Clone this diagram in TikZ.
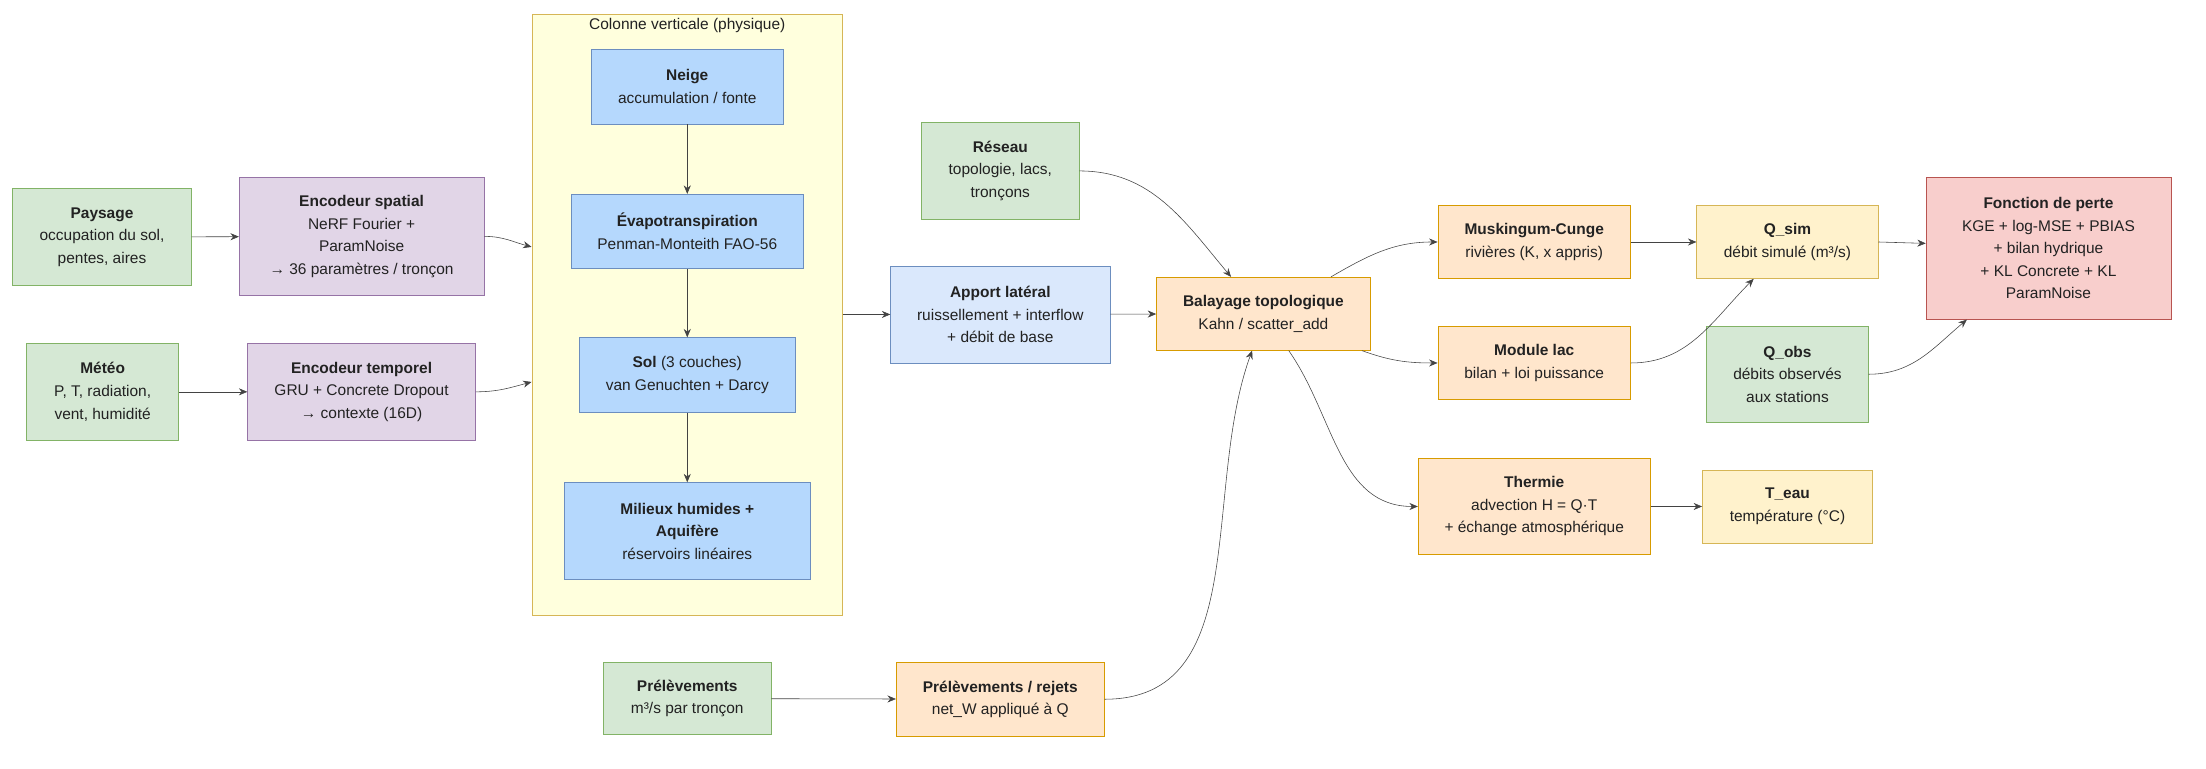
\documentclass[tikz,border=0pt]{standalone}
\usepackage{fontspec}
\setmainfont{Liberation Sans}
\usetikzlibrary{arrows.meta, positioning, calc}
\definecolor{gfill}{HTML}{D5E8D4}\definecolor{gdraw}{HTML}{82B366}
\definecolor{pfill}{HTML}{E1D5E7}\definecolor{pdraw}{HTML}{9673A6}
\definecolor{bfill}{HTML}{B5D8FD}\definecolor{bdraw}{HTML}{6C8EBF}
\definecolor{lfill}{HTML}{DAE8FC}
\definecolor{ofill}{HTML}{FFE6CC}\definecolor{odraw}{HTML}{D79B00}
\definecolor{yfill}{HTML}{FFF2CC}\definecolor{ydraw}{HTML}{D6B656}
\definecolor{cfill}{HTML}{FFFFDD}
\definecolor{rfill}{HTML}{F8CECC}\definecolor{rdraw}{HTML}{B85450}
\definecolor{txt}{HTML}{222222}
\tikzset{%
	box/.style={draw, rectangle, align=center, inner sep=0pt, text=txt,%
		font=\fontsize{11}{16}\selectfont},
	sz/.style 2 args={minimum width=#1pt, minimum height=#2pt},
	input/.style={box, fill=gfill, draw=gdraw},
	encoder/.style={box, fill=pfill, draw=pdraw},
	phys/.style={box, fill=bfill, draw=bdraw},
	flux/.style={box, fill=lfill, draw=bdraw},
	route/.style={box, fill=ofill, draw=odraw},
	output/.style={box, fill=yfill, draw=ydraw},
	loss/.style={box, fill=rfill, draw=rdraw},
	link/.style={-{Stealth[length=6pt,width=5pt]}, draw=txt!85}
}

\begin{document}
\begin{tikzpicture}[x=1pt, y=-1pt]
	\useasboundingbox (0,0) rectangle (1568,546);
	% colonne verticale
	\node[draw=ydraw, fill=cfill, minimum width=221pt, minimum height=427pt] (col) at (488.5,223.5) {};
	\node[text=txt, font=\fontsize{11}{14}\selectfont] (coltitle) at (488.5,18) {Colonne verticale (physique)};

	\node[input, sz={127}{69}] (paysage) at (72.5,168.5) {\textbf{Paysage}\\occupation du sol,\\pentes, aires};
	\node[input, sz={108}{69}] (meteo) at (73,278.5) {\textbf{Météo}\\P, T, radiation,\\vent, humidité};
	\node[encoder, sz={174}{84}] (encs) at (257,168) {\textbf{Encodeur spatial}\\NeRF Fourier +\\ParamNoise\\→ 36 paramètres / tronçon};
	\node[encoder, sz={162}{69}] (enct) at (257,278.5) {\textbf{Encodeur temporel}\\GRU + Concrete Dropout\\→ contexte (16D)};

	\node[phys, sz={137}{53}] (neige) at (488.5,61.5) {\textbf{Neige}\\accumulation / fonte};
	\node[phys, sz={165}{53}] (evapo) at (488.5,164.5) {\textbf{Évapotranspiration}\\Penman-Monteith FAO-56};
	\node[phys, sz={153}{53}] (sol) at (488.5,266.5) {\textbf{Sol} (3 couches)\\van Genuchten + Darcy};
	\node[phys, sz={175}{69}] (humides) at (488.5,377.5) {\textbf{Milieux humides +}\\\textbf{Aquifère}\\réservoirs linéaires};

	\node[flux, sz={156}{69}] (apport) at (711,223.5) {\textbf{Apport latéral}\\ruissellement + interflow\\+ débit de base};
	\node[input, sz={112}{69}] (reseau) at (711,121.5) {\textbf{Réseau}\\topologie, lacs,\\tronçons};
	\node[input, sz={119}{51}] (prel) at (488.5,496.5) {\textbf{Prélèvements}\\m³/s par tronçon};
	\node[route, sz={148}{52}] (rejets) at (711,497) {\textbf{Prélèvements / rejets}\\net\_W appliqué à Q};
	\node[route, sz={152}{52}] (balay) at (898,223) {\textbf{Balayage topologique}\\Kahn / scatter\_add};
	\node[route, sz={137}{52}] (musk) at (1090.5,172) {\textbf{Muskingum-Cunge}\\rivières (K, x appris)};
	\node[route, sz={137}{52}] (lac) at (1090.5,258) {\textbf{Module lac}\\bilan + loi puissance};
	\node[route, sz={165}{68}] (therm) at (1090.5,360) {\textbf{Thermie}\\advection H = Q·T\\+ échange atmosphérique};
	\node[output, sz={129}{52}] (qsim) at (1270.5,172) {\textbf{Q\_sim}\\débit simulé (m³/s)};
	\node[input, sz={115}{68}] (qobs) at (1270.5,266) {\textbf{Q\_obs}\\débits observés\\aux stations};
	\node[output, sz={121}{52}] (teau) at (1270.5,360) {\textbf{T\_eau}\\température (°C)};
	\node[loss, sz={174}{101}] (perte) at (1456,176.5) {\textbf{Fonction de perte}\\KGE + log-MSE + PBIAS\\+ bilan hydrique\\+ KL Concrete + KL\\ParamNoise};

	\draw[link] (paysage) -- (encs);
	\draw[link] (meteo) -- (enct);
	\draw[link] (encs.east) to[out=0, in=165] ($(col.west)+(0,-48)$);
	\draw[link] (enct.east) to[out=0, in=195] ($(col.west)+(0,48)$);
	\draw[link] (neige) -- (evapo);
	\draw[link] (evapo) -- (sol);
	\draw[link] (sol) -- (humides);
	\draw[link] (col.east) -- (apport.west);
	\draw[link] (apport) -- (balay);
	\draw[link] (reseau.east) to[out=0, in=130] ($(balay.north)+(-23,0)$);
	\draw[link] (prel) -- (rejets);
	\draw[link] (rejets.east) to[out=0, in=250] ($(balay.south)+(-8,0)$);
	\draw[link] ($(balay.north)+(48,0)$) to[out=30, in=180] (musk.west);
	\draw[link] ($(balay.south)+(70,0)$) to[out=-20, in=180] (lac.west);
	\draw[link] ($(balay.south)+(18,0)$) to[out=-55, in=180] (therm.west);
	\draw[link] (musk) -- (qsim);
	\draw[link] (lac.east) to[out=0, in=225] ($(qsim.south)+(-24,0)$);
	\draw[link] (therm) -- (teau);
	\draw[link] (qsim.east) -- ($(perte.west)+(0,-3.5)$);
	\draw[link] (qobs.east) to[out=0, in=220] ($(perte.south)+(-58,0)$);
\end{tikzpicture}
\end{document}
